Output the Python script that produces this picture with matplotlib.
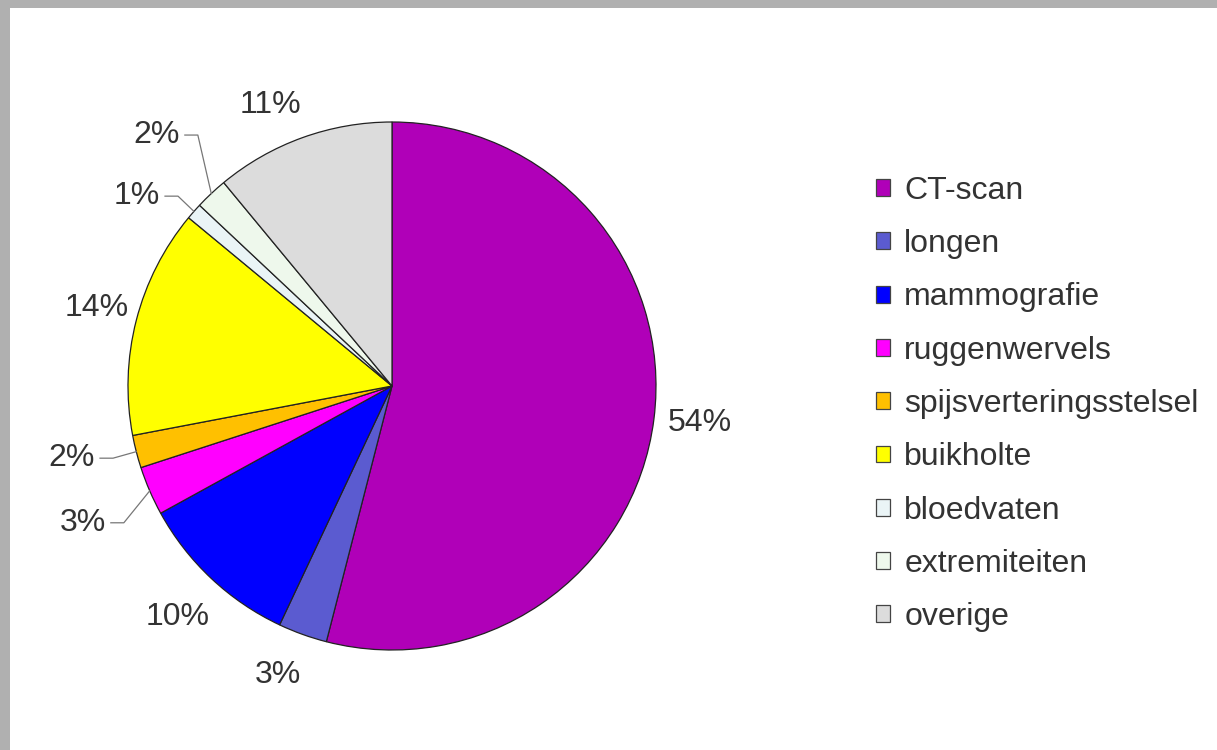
import numpy as np
import matplotlib.pyplot as plt
from matplotlib.patches import Rectangle

plt.rcParams['font.family'] = ['Liberation Sans', 'DejaVu Sans']

categories = ['CT-scan', 'longen', 'mammografie', 'ruggenwervels',
              'spijsverteringsstelsel', 'buikholte', 'bloedvaten',
              'extremiteiten', 'overige']
shares = [54, 3, 10, 3, 2, 14, 1, 2, 11]
colors = ['#B000B8', '#5B5BD0', '#0000FF', '#FF00FF', '#FFC000',
          '#FFFF00', '#EAF4F6', '#EEF8EC', '#DCDCDC']

# label distance (in radii) and angle tweak per slice
label_dist = [1.174, 1.166, 1.187, 1.276, 1.24, 1.159, 1.211, 1.311, 1.171]
label_rot = [0.9, -1.9, 0, 0, -2.2, -1, 4.3, -0.4, 3.4]
leader = [False, False, False, True, True, False, True, True, False]

W, H = 1217, 750
fig = plt.figure(figsize=(W / 100, H / 100), dpi=100, facecolor='#B0B0B0')
ax = fig.add_axes([0, 0, 1, 1])
ax.add_patch(Rectangle((10, 0), W - 10, H - 8, facecolor='white', edgecolor='none', zorder=0))

cx, cy, r = 392, H - 386, 264
wedges, _ = ax.pie(shares, colors=colors, startangle=90, counterclock=False,
                   center=(cx, cy), radius=r, frame=True,
                   wedgeprops=dict(edgecolor='#222222', linewidth=0.9))
ax.set_xlim(0, W)
ax.set_ylim(0, H)
ax.axis('off')
ax.set_aspect('equal')

for i, w in enumerate(wedges):
    mid = np.deg2rad((w.theta1 + w.theta2) / 2)
    lab = mid + np.deg2rad(label_rot[i])
    lx = cx + r * label_dist[i] * np.cos(lab)
    ly = cy + r * label_dist[i] * np.sin(lab) - 3
    ax.text(lx, ly, f'{shares[i]}%', ha='center', va='center',
            fontsize=23, color='#333333')
    if leader[i]:
        ex = cx + r * np.cos(mid)
        ey = cy + r * np.sin(mid)
        sx = lx + 28
        ax.plot([sx, sx + 13, ex], [ly, ly, ey], color='#777777', lw=0.9)

handles = [Rectangle((0, 0), 1, 1, facecolor=c, edgecolor='#444444', linewidth=0.9)
           for c in colors]
leg = fig.legend(handles, categories, loc='upper left',
                 bbox_to_anchor=(863 / W, 1 - 163 / H), frameon=False,
                 fontsize=23, handlelength=0.44, handleheight=0.44,
                 handletextpad=0.45, labelspacing=0.73, borderaxespad=0)
for t in leg.get_texts():
    t.set_color('#333333')

fig.savefig('out.png', dpi=100, facecolor=fig.get_facecolor())
